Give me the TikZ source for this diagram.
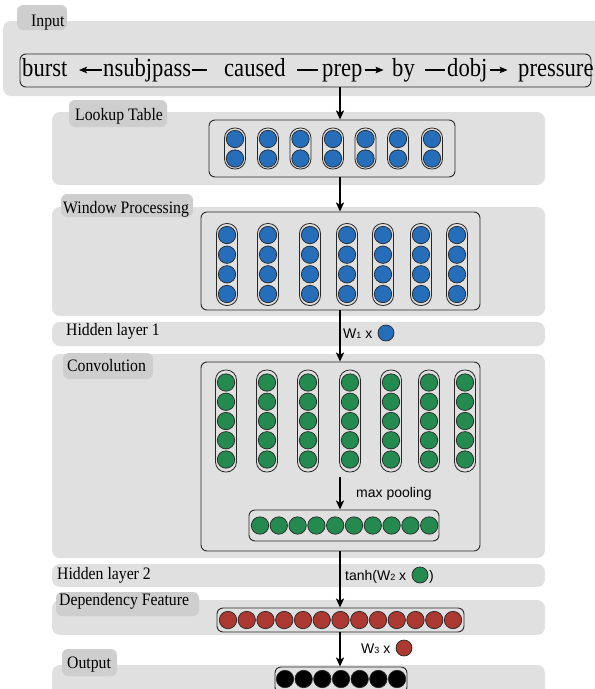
\documentclass[tikz,border=0pt]{standalone}
\usepackage{fontspec}
\setmainfont{Liberation Serif}
\newfontfamily\lblfont[FakeStretch=0.9]{Liberation Serif}
\newfontfamily\sentfont[FakeStretch=0.87]{Liberation Serif}
\newfontfamily\sansf{Liberation Sans}
\usetikzlibrary{arrows.meta}
\definecolor{bandgray}{RGB}{224,224,224}
\definecolor{tabgray}{RGB}{206,206,206}
\definecolor{nblue}{RGB}{38,110,186}
\definecolor{ngreen}{RGB}{36,138,80}
\definecolor{nred}{RGB}{172,56,50}
\definecolor{edgec}{RGB}{40,40,40}
\newcommand{\smallsub}[1]{\raisebox{-0.5pt}{\fontsize{9}{9}\selectfont #1}}
\begin{document}
\begin{tikzpicture}[x=1pt,y=-1pt,
  band/.style={fill=bandgray,rounded corners=8pt},
  tab/.style={fill=tabgray,rounded corners=6pt},
  lbl/.style={anchor=base west,inner sep=0pt,font=\lblfont\fontsize{17.5}{20}\selectfont},
  sent/.style={anchor=base west,inner sep=0pt,font=\sentfont\fontsize{26}{28}\selectfont},
  sans/.style={anchor=base west,inner sep=0pt,font=\sansf\fontsize{14}{16}\selectfont},
  box/.style={draw=edgec,line width=0.9pt,rounded corners=6pt,inner sep=0pt},
  pill/.style={draw=edgec,line width=0.8pt,rounded corners=10pt,minimum width=21pt,inner sep=0pt},
  circ/.style={circle,draw=edgec,line width=0.7pt,minimum size=17.4pt,inner sep=0pt},
  bcirc/.style={circ,fill=nblue},
  gcirc/.style={circ,fill=ngreen},
  rcirc/.style={circ,fill=nred},
  kcirc/.style={circ,fill=black},
  flow/.style={line width=1.5pt,-{Stealth[length=9pt,width=8pt,inset=2pt]}},
  sline/.style={line width=1.3pt},
  sarrow/.style={line width=1.3pt,-{Stealth[length=8pt,width=6.5pt,inset=1.5pt]}}
]
\useasboundingbox (0,0) rectangle (595,689);
\clip (0,0) rectangle (595,689);

% bands
\fill[band] (3,21) rectangle (610,96);
\fill[band] (52,112) rectangle (545,185);
\fill[band] (52,207) rectangle (545,316);
\fill[band] (52,322) rectangle (545,346);
\fill[band] (52,354) rectangle (545,558);
\fill[band] (52,564) rectangle (545,587);
\fill[band] (52,600) rectangle (545,635);
\fill[band] (52,665) rectangle (545,700);

% tabs
\fill[tab] (17,5) rectangle (67,30);
\fill[tab] (69,100) rectangle (167,127);
\fill[tab] (61,194) rectangle (193,217);
\fill[tab] (63,353) rectangle (153,379);
\fill[tab] (56,592) rectangle (199,616);
\fill[tab] (62,649) rectangle (117,676);

% labels
\node[lbl] (tInput) at (31,26) {Input};
\node[lbl] (tLookup) at (75,120) {Lookup Table};
\node[lbl] (tWindow) at (63,213) {Window Processing};
\node[lbl] (tHid1) at (66,335) {Hidden layer 1};
\node[lbl] (tConv) at (67,371) {Convolution};
\node[lbl] (tHid2) at (57,579) {Hidden layer 2};
\node[lbl] (tDep) at (59,605) {Dependency Feature};
\node[lbl] (tOut) at (67,668) {Output};

% arrow column
\coordinate (ax) at (340,0);

% sentence
\node[box,minimum width=571pt,minimum height=33pt] (sbox) at (305.5,70.5) {};
\node[sent] (w1) at (22,76) {burst};
\node[sent] (l1) at (103,76) {nsubjpass};
\node[sent] (w2) at (224,76) {caused};
\node[sent] (l2) at (322,76) {prep};
\node[sent] (w3) at (392,76) {by};
\node[sent] (l3) at (447,76) {dobj};
\node[sent] (w4) at (518,76) {pressure};
\draw[sarrow] ([shift={(-1,-6)}]l1.base west) -- ++(-23,0);
\draw[sline] ([shift={(1,-6)}]l1.base east) -- ++(15,0);
\draw[sline] ([shift={(-4,-6)}]l2.base west) -- ++(-21,0);
\draw[sarrow] ([shift={(2,-6)}]l2.base east) -- ++(19,0);
\draw[sline] ([shift={(-2,-6)}]l3.base west) -- ++(-20,0);
\draw[sarrow] ([shift={(2,-6)}]l3.base east) -- ++(18,0);

% lookup table
\node[box,minimum width=246pt,minimum height=57pt] (lbox) at (332,148.5) {};
\foreach \i/\x in {0/235,1/268,2/300.5,3/333,4/365.5,5/398,6/432} {
  \node[pill,minimum height=41pt] (lp\i) at (\x,148.5) {};
  \foreach \j/\y in {0/139,1/158.5}
    \node[bcirc] (lc\i\j) at (\x,\y) {};
}

% window processing
\node[box,minimum width=279pt,minimum height=98pt] (wbox) at (340.5,261) {};
\foreach \i/\x in {0/227,1/268,2/310,3/347,4/383,5/421,6/457} {
  \node[pill,minimum height=82pt] (wp\i) at (\x,264.5) {};
  \foreach \j/\y in {0/235,1/254.7,2/274.3,3/294}
    \node[bcirc] (wc\i\j) at (\x,\y) {};
}

% hidden layer 1
\node[sans] (h1txt) at (343,338) {W\smallsub{1} x};
\node[bcirc,minimum size=16pt] (h1c) at (386,333) {};

% convolution
\node[box,minimum width=279pt,minimum height=189pt] (cbox) at (340.5,456.5) {};
\foreach \i/\x in {0/226,1/267,2/308,3/350,4/391,5/429,6/465} {
  \node[pill,minimum height=102pt] (cp\i) at (\x,421) {};
  \foreach \j/\y in {0/382.5,1/401.75,2/421,3/440.25,4/459.5}
    \node[gcirc] (cc\i\j) at (\x,\y) {};
}
\coordinate (mpstart) at (340,477);
\node[sans] (mptxt) at (356,497) {max pooling};
\node[box,minimum width=190pt,minimum height=31pt] (pbox) at (344,525.5) {};
\foreach \i in {0,...,9}
  \node[gcirc] (pc\i) at (260+18.8*\i,525.5) {};

% hidden layer 2
\node[sans] (h2txt) at (345,580) {tanh(W\smallsub{2} x};
\node[gcirc,minimum size=16pt] (h2c) at (420,575) {};
\node[sans] (h2par) at (429,580) {)};

% dependency feature
\node[box,minimum width=247pt,minimum height=24pt] (dbox) at (340.5,620) {};
\foreach \i in {0,...,12}
  \node[rcirc] (dc\i) at (228+18.75*\i,620) {};

\node[sans] (h3txt) at (361,653) {W\smallsub{3} x};
\node[rcirc,minimum size=16pt] (h3c) at (404,648) {};

% output
\node[box,minimum width=132pt,minimum height=26pt] (obox) at (341,680) {};
\foreach \i in {0,...,6}
  \node[kcirc] (oc\i) at (285+18.67*\i,679) {};

% flow arrows
\draw[flow] (sbox.south -| ax) -- (lbox.north -| ax);
\draw[flow] (lbox.south -| ax) -- (wbox.north -| ax);
\draw[flow] (wbox.south -| ax) -- (cbox.north -| ax);
\draw[flow] (mpstart) -- (pbox.north -| ax);
\draw[flow] (cbox.south -| ax) -- (dbox.north -| ax);
\draw[flow] (dbox.south -| ax) -- (obox.north -| ax);
\end{tikzpicture}
\end{document}
